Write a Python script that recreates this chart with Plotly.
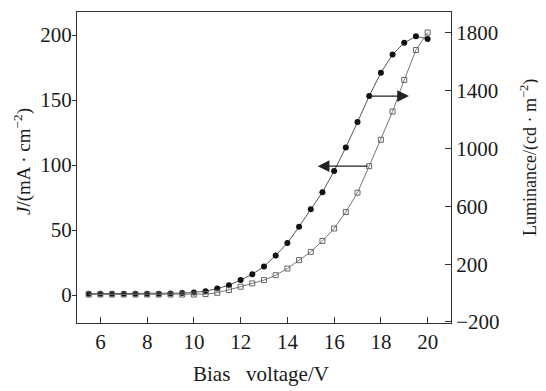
import plotly.graph_objects as go

# Data
voltage = [5.5, 6.0, 6.5, 7.0, 7.5, 8.0, 8.5, 9.0, 9.5, 10.0, 10.5, 11.0, 11.5, 12.0, 12.5,
           13.0, 13.5, 14.0, 14.5, 15.0, 15.5, 16.0, 16.5, 17.0, 17.5, 18.0, 18.5, 19.0, 19.5, 20.0]
current_density = [1.0, 1.0, 1.0, 1.0, 1.0, 1.0, 1.0, 1.2, 1.5, 2.0, 3.0, 5.0, 7.5, 11.5, 16.0,
                   22.0, 30.5, 40.0, 52.5, 66.0, 79.0, 95.5, 113.5, 133.0, 153.0, 171.0, 185.0, 194.0, 199.0, 197.0]
luminance = [-10, -10, -10, -10, -10, -10, -10, -10, -10, -10, -7, 2, 21, 44, 67,
             90, 124, 170, 228, 285, 361, 447, 561, 695, 878, 1061, 1256, 1475, 1682, 1803]

x_ticks = [6, 8, 10, 12, 14, 16, 18, 20]
j_ticks = [0, 50, 100, 150, 200]
l_ticks = [-200, 200, 600, 1000, 1400, 1800]

FONT = "Liberation Serif"
INK = "#1a1a1a"

fig = go.Figure()
fig.add_trace(go.Scatter(
    x=voltage, y=current_density, mode="lines+markers", yaxis="y",
    line=dict(color="#555555", width=1),
    marker=dict(symbol="circle", size=6, color="#111111"),
    showlegend=False))
fig.add_trace(go.Scatter(
    x=voltage, y=luminance, mode="lines+markers", yaxis="y2",
    line=dict(color="#777777", width=1),
    marker=dict(symbol="square-open", size=5, color="#666666", line=dict(width=1)),
    showlegend=False))

# arrows indicating which axis each curve uses
fig.add_annotation(x=19.2, y=153, ax=17.5, ay=153, xref="x", yref="y", axref="x", ayref="y",
                   showarrow=True, arrowhead=2, arrowsize=1.8, arrowwidth=1.3, arrowcolor="#222222", text="")
fig.add_annotation(x=15.3, y=878, ax=17.5, ay=878, xref="x", yref="y2", axref="x", ayref="y2",
                   showarrow=True, arrowhead=2, arrowsize=1.8, arrowwidth=1.3, arrowcolor="#222222", text="")

# plot area in page pixels: x 77..451, y 12..323 ; page body has an 8px offset
W, H = 538, 383
L, R, T, B = 69, W - 443, 4, H - 315
PW, PH = 443 - L, 315 - T

def px(xp):
    return (xp - 8 - L) / PW

def py(yp):
    return (315 - (yp - 8)) / PH

# axis titles
fig.add_annotation(x=px(22), y=py(162), xref="paper", yref="paper", showarrow=False, textangle=-90,
                   text="<i>J</i>/(mA · cm<sup>−2</sup>)", font=dict(family=FONT, size=19, color=INK),
                   xanchor="center", yanchor="middle")
fig.add_annotation(x=px(529), y=py(158), xref="paper", yref="paper", showarrow=False, textangle=-90,
                   text="Luminance/(cd · m<sup>−2</sup>)", font=dict(family=FONT, size=18, color=INK),
                   xanchor="center", yanchor="middle")
fig.add_annotation(x=px(261), y=py(374), xref="paper", yref="paper", showarrow=False,
                   text="Bias&nbsp;&nbsp;&nbsp;voltage/V", font=dict(family=FONT, size=21, color=INK),
                   xanchor="center", yanchor="middle")

fig.update_layout(
    width=W, height=H,
    margin=dict(l=L, r=R, t=T, b=B, autoexpand=False),
    paper_bgcolor="white", plot_bgcolor="white",
    font=dict(family=FONT, size=21, color=INK),
    xaxis=dict(range=[5, 21], tickvals=x_ticks, ticks="inside", ticklen=6, tickcolor="#333",
               showline=True, linecolor="#333", linewidth=1, mirror=True, showgrid=False,
               zeroline=False, tickfont=dict(family=FONT, size=21, color=INK)),
    yaxis=dict(range=[-21.5, 217.7], tickvals=j_ticks, ticks="outside", ticklen=4, tickcolor="#333",
               showline=True, linecolor="#333", linewidth=1, showgrid=False, zeroline=False,
               ticklabelstandoff=-4,
               tickfont=dict(family=FONT, size=21, color=INK)),
    yaxis2=dict(range=[-207, 1945], tickvals=l_ticks, ticks="inside", ticklen=6, tickcolor="#333",
                overlaying="y", side="right", showline=True, linecolor="#333", linewidth=1,
                showgrid=False, zeroline=False, tickfont=dict(family=FONT, size=21, color=INK)),
)

fig.write_html("out.html")
